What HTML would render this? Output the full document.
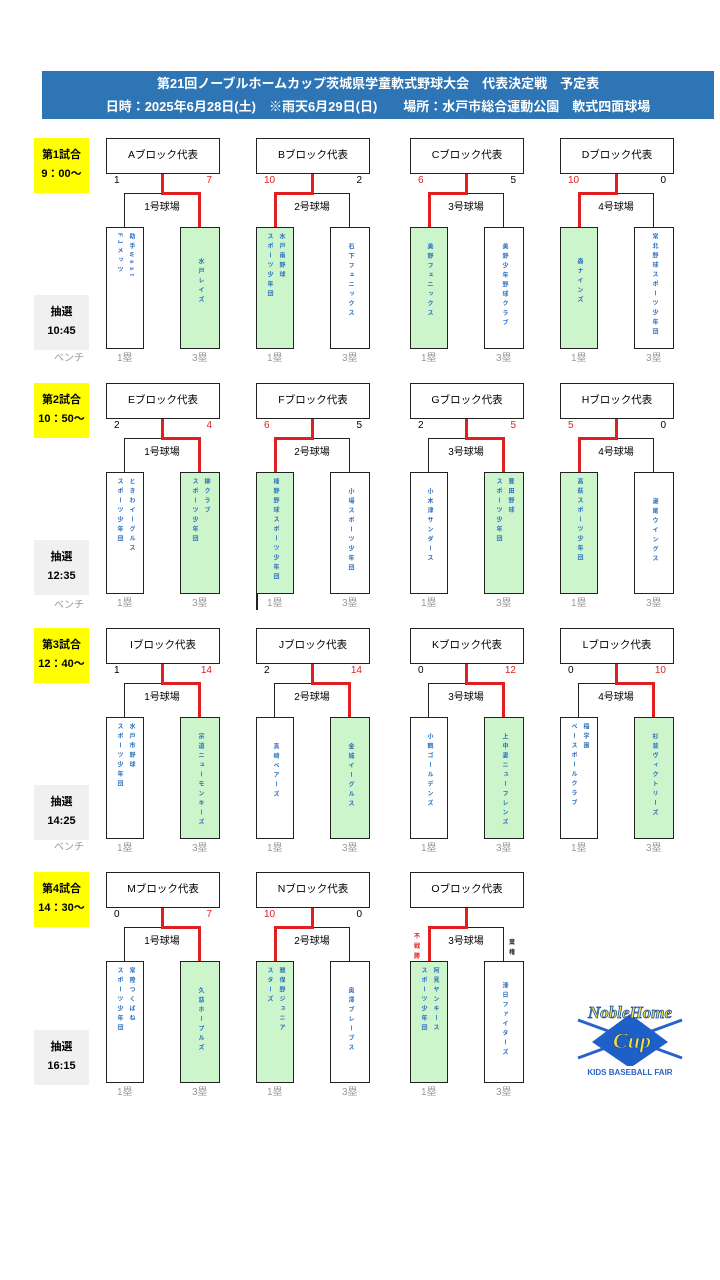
<!DOCTYPE html>
<html><head><meta charset="utf-8">
<style>
*{margin:0;padding:0;box-sizing:border-box}
body{width:720px;height:1280px;background:#fff;position:relative;overflow:hidden;font-family:"Liberation Sans","Noto Sans CJK JP",sans-serif;}
.hdr{position:absolute;left:42px;top:71px;width:672px;height:48px;background:#2e75b6;color:#fff;font-weight:bold;font-size:13px;text-align:center;line-height:23px;padding-top:1px}
.y{position:absolute;left:34px;width:55px;height:55px;background:#ffff00;font-size:11px;font-weight:bold;text-align:center;line-height:19px;padding-top:8px}
.g{position:absolute;left:34px;width:55px;height:55px;background:#f0f0f0;font-size:11px;font-weight:bold;text-align:center;line-height:19px;padding-top:8px}
.bn{position:absolute;left:54px;font-size:10px;color:#999}
.blk{position:absolute;width:114px;height:225px}
.nm{position:absolute;left:0;top:0;width:114px;height:36px;border:1.5px solid #222;font-size:10.5px;text-align:center;line-height:33px}
.sc{position:absolute;top:37px;font-size:10px}
.sc.l{left:8px}.sc.r{right:8px}
.red{color:#e02020}
.fd{position:absolute;left:18px;top:55px;width:76px;height:35px;border:1.5px solid #222;border-bottom:none;font-size:10px;text-align:center;line-height:28px}
.rl{position:absolute;background:#e02020}
.ch{position:absolute;top:89px;height:122px;border:1.5px solid #222;background:#fff;display:flex;justify-content:center;padding-top:5px}
.ch.w{background:#ccf5cc}
.ch.a{left:0;width:38px}.ch.b{left:74px;width:40px}
.vt{writing-mode:vertical-rl;font-size:6px;color:#2a6fc0;font-weight:bold;letter-spacing:3.5px;line-height:12px}
.bs{position:absolute;top:211px;font-size:10px;color:#999}
.bs.a{left:11px}.bs.b{left:86px}
</style></head><body>
<div class="hdr">第21回ノーブルホームカップ茨城県学童軟式野球大会　代表決定戦　予定表<br>日時：2025年6月28日(土)　※雨天6月29日(日)　　場所：水戸市総合運動公園　軟式四面球場</div>

<div class="y" style="top:138px">第1試合<br>9：00～</div>
<div class="g" style="top:295px">抽選<br>10:45</div>
<div class="bn" style="top:349px">ベンチ</div>
<div class="y" style="top:383px">第2試合<br>10：50～</div>
<div class="g" style="top:540px">抽選<br>12:35</div>
<div class="bn" style="top:596px">ベンチ</div>
<div class="y" style="top:628px">第3試合<br>12：40～</div>
<div class="g" style="top:785px">抽選<br>14:25</div>
<div class="bn" style="top:838px">ベンチ</div>
<div class="y" style="top:872px">第4試合<br>14：30～</div>
<div class="g" style="top:1030px">抽選<br>16:15</div>

<!-- Section 1 -->
<div class="blk" style="left:106px;top:138px"><div class="nm">Aブロック代表</div><div class="sc l">1</div><div class="sc r red">7</div><div class="fd">1号球場</div>
<div class="rl" style="left:55px;top:36px;width:3px;height:20px"></div><div class="rl" style="left:55px;top:54px;width:40px;height:3px"></div><div class="rl" style="left:92px;top:54px;width:3px;height:36px"></div>
<div class="ch a"><div class="vt">助手west<br>FJメッツ</div></div><div class="ch b w"><div class="vt" style="margin-top:25px">水戸レイズ</div></div><div class="bs a">1塁</div><div class="bs b">3塁</div></div>

<div class="blk" style="left:256px;top:138px"><div class="nm">Bブロック代表</div><div class="sc l red">10</div><div class="sc r">2</div><div class="fd">2号球場</div>
<div class="rl" style="left:55px;top:36px;width:3px;height:20px"></div><div class="rl" style="left:18px;top:54px;width:40px;height:3px"></div><div class="rl" style="left:18px;top:54px;width:3px;height:36px"></div>
<div class="ch a w"><div class="vt">水戸南野球<br>スポーツ少年団</div></div><div class="ch b"><div class="vt" style="margin-top:10px">石下フェニックス</div></div><div class="bs a">1塁</div><div class="bs b">3塁</div></div>

<div class="blk" style="left:410px;top:138px"><div class="nm">Cブロック代表</div><div class="sc l red">6</div><div class="sc r">5</div><div class="fd">3号球場</div>
<div class="rl" style="left:55px;top:36px;width:3px;height:20px"></div><div class="rl" style="left:18px;top:54px;width:40px;height:3px"></div><div class="rl" style="left:18px;top:54px;width:3px;height:36px"></div>
<div class="ch a w"><div class="vt" style="margin-top:10px">美野フェニックス</div></div><div class="ch b"><div class="vt" style="margin-top:10px">美野少年野球クラブ</div></div><div class="bs a">1塁</div><div class="bs b">3塁</div></div>

<div class="blk" style="left:560px;top:138px"><div class="nm">Dブロック代表</div><div class="sc l red">10</div><div class="sc r">0</div><div class="fd">4号球場</div>
<div class="rl" style="left:55px;top:36px;width:3px;height:20px"></div><div class="rl" style="left:18px;top:54px;width:40px;height:3px"></div><div class="rl" style="left:18px;top:54px;width:3px;height:36px"></div>
<div class="ch a w"><div class="vt" style="margin-top:25px">森ナインズ</div></div><div class="ch b"><div class="vt">常北野球スポーツ少年団</div></div><div class="bs a">1塁</div><div class="bs b">3塁</div></div>

<!-- Section 2 -->
<div class="blk" style="left:106px;top:383px"><div class="nm">Eブロック代表</div><div class="sc l">2</div><div class="sc r red">4</div><div class="fd">1号球場</div>
<div class="rl" style="left:55px;top:36px;width:3px;height:20px"></div><div class="rl" style="left:55px;top:54px;width:40px;height:3px"></div><div class="rl" style="left:92px;top:54px;width:3px;height:36px"></div>
<div class="ch a"><div class="vt">ときわイーグルス<br>スポーツ少年団</div></div><div class="ch b w"><div class="vt">柳クラブ<br>スポーツ少年団</div></div><div class="bs a">1塁</div><div class="bs b">3塁</div></div>

<div class="blk" style="left:256px;top:383px"><div class="nm">Fブロック代表</div><div class="sc l red">6</div><div class="sc r">5</div><div class="fd">2号球場</div>
<div class="rl" style="left:55px;top:36px;width:3px;height:20px"></div><div class="rl" style="left:18px;top:54px;width:40px;height:3px"></div><div class="rl" style="left:18px;top:54px;width:3px;height:36px"></div>
<div class="ch a w"><div class="vt">榛野野球スポーツ少年団</div></div><div class="ch b"><div class="vt" style="margin-top:10px">小場スポーツ少年団</div></div><div class="bs a">1塁</div><div class="bs b">3塁</div></div>
<div style="position:absolute;left:256px;top:594px;width:1.5px;height:16px;background:#222"></div>

<div class="blk" style="left:410px;top:383px"><div class="nm">Gブロック代表</div><div class="sc l">2</div><div class="sc r red">5</div><div class="fd">3号球場</div>
<div class="rl" style="left:55px;top:36px;width:3px;height:20px"></div><div class="rl" style="left:55px;top:54px;width:40px;height:3px"></div><div class="rl" style="left:92px;top:54px;width:3px;height:36px"></div>
<div class="ch a"><div class="vt" style="margin-top:10px">小木津サンダース</div></div><div class="ch b w"><div class="vt">豊田野球<br>スポーツ少年団</div></div><div class="bs a">1塁</div><div class="bs b">3塁</div></div>

<div class="blk" style="left:560px;top:383px"><div class="nm">Hブロック代表</div><div class="sc l red">5</div><div class="sc r">0</div><div class="fd">4号球場</div>
<div class="rl" style="left:55px;top:36px;width:3px;height:20px"></div><div class="rl" style="left:18px;top:54px;width:40px;height:3px"></div><div class="rl" style="left:18px;top:54px;width:3px;height:36px"></div>
<div class="ch a w"><div class="vt">高萩スポーツ少年団</div></div><div class="ch b"><div class="vt" style="margin-top:20px">瀬尾ウイングス</div></div><div class="bs a">1塁</div><div class="bs b">3塁</div></div>

<!-- Section 3 -->
<div class="blk" style="left:106px;top:628px"><div class="nm">Iブロック代表</div><div class="sc l">1</div><div class="sc r red">14</div><div class="fd">1号球場</div>
<div class="rl" style="left:55px;top:36px;width:3px;height:20px"></div><div class="rl" style="left:55px;top:54px;width:40px;height:3px"></div><div class="rl" style="left:92px;top:54px;width:3px;height:36px"></div>
<div class="ch a"><div class="vt">水戸市野球<br>スポーツ少年団</div></div><div class="ch b w"><div class="vt" style="margin-top:10px">宗道ニューモンキーズ</div></div><div class="bs a">1塁</div><div class="bs b">3塁</div></div>

<div class="blk" style="left:256px;top:628px"><div class="nm">Jブロック代表</div><div class="sc l">2</div><div class="sc r red">14</div><div class="fd">2号球場</div>
<div class="rl" style="left:55px;top:36px;width:3px;height:20px"></div><div class="rl" style="left:55px;top:54px;width:40px;height:3px"></div><div class="rl" style="left:92px;top:54px;width:3px;height:36px"></div>
<div class="ch a"><div class="vt" style="margin-top:20px">真崎ベアーズ</div></div><div class="ch b w"><div class="vt" style="margin-top:20px">金城イーグルス</div></div><div class="bs a">1塁</div><div class="bs b">3塁</div></div>

<div class="blk" style="left:410px;top:628px"><div class="nm">Kブロック代表</div><div class="sc l">0</div><div class="sc r red">12</div><div class="fd">3号球場</div>
<div class="rl" style="left:55px;top:36px;width:3px;height:20px"></div><div class="rl" style="left:55px;top:54px;width:40px;height:3px"></div><div class="rl" style="left:92px;top:54px;width:3px;height:36px"></div>
<div class="ch a"><div class="vt" style="margin-top:10px">小鶴ゴールデンズ</div></div><div class="ch b w"><div class="vt" style="margin-top:10px">上中妻ニューフレンズ</div></div><div class="bs a">1塁</div><div class="bs b">3塁</div></div>

<div class="blk" style="left:560px;top:628px"><div class="nm">Lブロック代表</div><div class="sc l">0</div><div class="sc r red">10</div><div class="fd">4号球場</div>
<div class="rl" style="left:55px;top:36px;width:3px;height:20px"></div><div class="rl" style="left:55px;top:54px;width:40px;height:3px"></div><div class="rl" style="left:92px;top:54px;width:3px;height:36px"></div>
<div class="ch a"><div class="vt">稲学園<br>ベースボールクラブ</div></div><div class="ch b w"><div class="vt" style="margin-top:10px">杉並ヴィクトリーズ</div></div><div class="bs a">1塁</div><div class="bs b">3塁</div></div>

<!-- Section 4 -->
<div class="blk" style="left:106px;top:872px"><div class="nm">Mブロック代表</div><div class="sc l">0</div><div class="sc r red">7</div><div class="fd">1号球場</div>
<div class="rl" style="left:55px;top:36px;width:3px;height:20px"></div><div class="rl" style="left:55px;top:54px;width:40px;height:3px"></div><div class="rl" style="left:92px;top:54px;width:3px;height:36px"></div>
<div class="ch a"><div class="vt">常陸つくばね<br>スポーツ少年団</div></div><div class="ch b w"><div class="vt" style="margin-top:20px">久慈ホープルズ</div></div><div class="bs a">1塁</div><div class="bs b">3塁</div></div>

<div class="blk" style="left:256px;top:872px"><div class="nm">Nブロック代表</div><div class="sc l red">10</div><div class="sc r">0</div><div class="fd">2号球場</div>
<div class="rl" style="left:55px;top:36px;width:3px;height:20px"></div><div class="rl" style="left:18px;top:54px;width:40px;height:3px"></div><div class="rl" style="left:18px;top:54px;width:3px;height:36px"></div>
<div class="ch a w"><div class="vt">雅保野ジュニア<br>スターズ</div></div><div class="ch b"><div class="vt" style="margin-top:20px">奥澤ブレーブス</div></div><div class="bs a">1塁</div><div class="bs b">3塁</div></div>

<div class="blk" style="left:410px;top:872px"><div class="nm">Oブロック代表</div><div class="fd">3号球場</div>
<div class="rl" style="left:55px;top:36px;width:3px;height:20px"></div><div class="rl" style="left:18px;top:54px;width:40px;height:3px"></div><div class="rl" style="left:18px;top:54px;width:3px;height:36px"></div>
<div style="position:absolute;left:4px;top:60px;font-size:6px;color:#e02020;font-weight:bold;width:8px;line-height:10px">不戦勝</div>
<div style="position:absolute;left:99px;top:66px;font-size:6px;color:#222;font-weight:bold;width:8px;line-height:10px">棄権</div>
<div class="ch a w"><div class="vt">阿見ヤンキース<br>スポーツ少年団</div></div><div class="ch b"><div class="vt" style="margin-top:15px">湊日ファイターズ</div></div><div class="bs a">1塁</div><div class="bs b">3塁</div></div>

<!-- Logo -->
<svg style="position:absolute;left:574px;top:996px" width="112" height="84" viewBox="0 0 112 84">
<line x1="4" y1="24" x2="108" y2="62" stroke="#2a63c8" stroke-width="3"/>
<line x1="108" y1="24" x2="4" y2="62" stroke="#2a63c8" stroke-width="3"/>
<polygon points="56,18 94,46 56,72 18,46" fill="#1f5fc8"/>
<text x="56" y="22" text-anchor="middle" font-family="Liberation Serif,serif" font-style="italic" font-weight="bold" font-size="17" fill="#f3e23a" stroke="#1a4fa8" stroke-width="0.8">NobleHome</text>
<text x="58" y="52" text-anchor="middle" font-family="Liberation Serif,serif" font-style="italic" font-weight="bold" font-size="22" fill="#f3e23a" stroke="#1a4fa8" stroke-width="0.8">Cup</text>
<rect x="14" y="70" width="84" height="10" fill="#fff"/>
<text x="56" y="79" text-anchor="middle" font-family="Liberation Sans,sans-serif" font-weight="bold" font-size="8" fill="#2a63c8">KIDS BASEBALL FAIR</text>
</svg>
</body></html>
